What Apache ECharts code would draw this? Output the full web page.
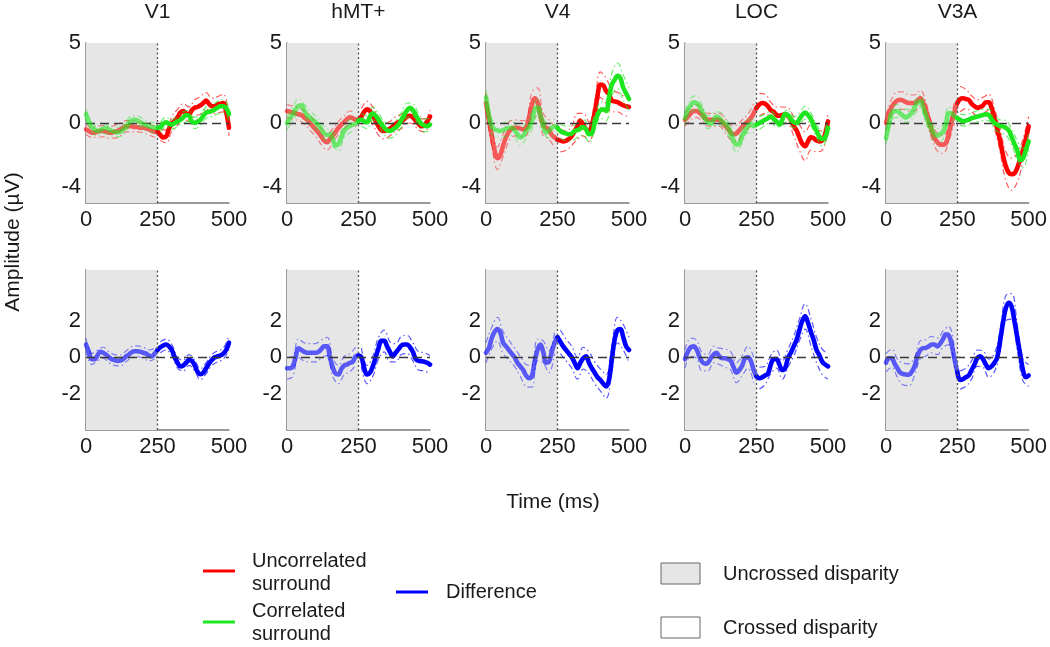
<!DOCTYPE html>
<html><head><meta charset="utf-8">
<script src="https://cdn.jsdelivr.net/npm/echarts@6/dist/echarts.min.js"></script>
<style>html,body{margin:0;padding:0;background:#fff}#c{width:1050px;height:647px}</style>
</head><body><div id="c"></div><script>
// ---------- data ----------
const regions = ['V1', 'hMT+', 'V4', 'LOC', 'V3A'];
const xTicks = [0, 250, 500];
const topYLabels = [5, 0, -4];
const bottomYLabels = [2, 0, -2];
const times = Array.from({length: 51}, (_, i) => i * 10);      // ms, 10 ms steps
const errTimes = Array.from({length: 26}, (_, i) => i * 20);   // ms, 20 ms steps

// Uncorrelated surround (red), µV
const uncV1 = [-0.4,-0.5,-0.6,-0.6,-0.55,-0.5,-0.5,-0.55,-0.6,-0.6,
  -0.55,-0.5,-0.4,-0.3,-0.2,-0.2,-0.2,-0.25,-0.25,-0.3,
  -0.3,-0.35,-0.4,-0.5,-0.55,-0.55,-0.75,-0.9,-0.85,-0.35,
  -0.05,0.15,0.35,0.65,0.75,0.6,0.55,0.8,0.95,1.0,
  1.1,1.25,1.4,1.2,1.05,1.05,1.15,1.2,1.25,0.7,-0.3];
const uncMT = [0.75,0.7,0.65,0.6,0.55,0.5,0.35,0.2,0.0,-0.2,
  -0.4,-0.6,-0.85,-1.1,-1.2,-1.0,-0.8,-0.55,-0.3,-0.1,
  0.05,0.25,0.35,0.3,0.2,0.2,0.4,0.7,0.85,0.75,
  0.45,0.1,-0.2,-0.45,-0.5,-0.45,-0.35,-0.2,-0.05,0.05,
  0.1,0.25,0.4,0.45,0.35,0.15,-0.05,-0.2,-0.15,0.1,0.4];
const uncV4 = [1.25,0.2,-0.8,-1.7,-2.2,-2.0,-1.4,-0.9,-0.55,-0.35,
  -0.3,-0.3,-0.35,-0.4,-0.3,0.3,1.1,1.55,1.3,0.5,
  -0.1,-0.3,-0.4,-0.75,-0.9,-1.05,-1.1,-1.15,-1.1,-1.0,
  -0.8,-0.5,-0.2,0.15,-0.1,-0.4,-0.55,-0.1,0.6,1.7,
  2.4,2.35,2.0,1.8,1.4,1.35,1.3,1.2,1.1,1.05,1.0];
const uncLOC = [0.2,0.4,0.6,0.75,0.75,0.65,0.5,0.3,0.2,0.2,
  0.2,0.2,0.2,0.05,-0.15,-0.35,-0.6,-0.7,-0.65,-0.45,
  -0.25,-0.05,0.1,0.3,0.6,0.95,1.15,1.25,1.2,1.05,
  0.8,0.7,0.5,0.45,0.5,0.55,0.45,0.2,-0.2,-0.45,
  -0.9,-1.3,-1.45,-1.15,-0.9,-0.95,-1.1,-1.15,-1.1,-0.7,0.1];
const uncV3A = [0.0,0.6,1.0,1.25,1.4,1.45,1.4,1.3,1.25,1.25,
  1.25,1.4,1.55,1.3,0.8,0.2,-0.45,-0.95,-1.2,-1.35,
  -1.35,-1.25,-0.65,0.05,0.7,1.25,1.5,1.55,1.5,1.45,
  1.2,1.05,0.95,1.0,1.1,1.3,1.3,0.95,0.3,-0.4,
  -1.1,-2.0,-2.7,-3.1,-3.2,-3.15,-2.8,-2.3,-1.7,-1.0,-0.2];

// Correlated surround (green), µV
const corV1 = [0.55,0.1,-0.25,-0.4,-0.5,-0.45,-0.35,-0.3,-0.4,-0.5,
  -0.55,-0.6,-0.55,-0.4,-0.2,0.0,0.15,0.2,0.15,0.05,
  -0.05,-0.15,-0.2,-0.25,-0.3,-0.3,-0.25,-0.05,0.05,-0.05,
  -0.1,0.0,0.1,0.2,0.35,0.5,0.45,0.1,0.0,0.1,
  0.2,0.45,0.65,0.7,0.75,0.85,0.95,1.05,1.05,0.95,0.55];
const corMT = [0.0,0.3,0.55,0.85,1.05,1.1,0.8,0.5,0.35,0.2,
  0.05,-0.15,-0.4,-0.65,-0.75,-0.7,-1.0,-1.4,-1.3,-0.9,
  -0.5,-0.3,-0.2,-0.1,-0.05,0.15,0.2,0.1,0.05,0.4,
  0.6,0.45,0.2,-0.05,-0.3,-0.45,-0.5,-0.4,-0.3,-0.1,
  0.2,0.5,0.8,0.95,0.8,0.5,0.2,-0.05,-0.15,-0.2,-0.1];
const corV4 = [1.6,0.5,-0.2,-0.4,-0.45,-0.5,-0.45,-0.35,-0.3,-0.3,
  -0.45,-0.7,-0.9,-0.8,-0.5,-0.3,0.1,0.8,1.0,0.5,
  -0.1,-0.6,-0.5,-0.3,-0.2,-0.3,-0.5,-0.6,-0.65,-0.7,
  -0.65,-0.5,-0.45,-0.35,-0.25,-0.4,-0.7,-0.65,0.0,0.5,
  0.8,0.85,0.75,1.6,2.4,2.7,2.95,2.8,2.2,1.85,1.5];
const corLOC = [0.3,0.8,1.1,1.3,1.25,1.05,0.7,0.3,0.05,-0.05,
  0.2,0.4,0.3,0.1,-0.05,-0.25,-0.65,-1.1,-1.35,-1.25,
  -0.8,-0.5,-0.2,-0.05,-0.2,-0.1,0.0,0.1,0.2,0.3,
  0.4,0.25,0.1,-0.1,0.2,0.55,0.5,0.25,0.05,0.0,
  0.25,0.5,0.65,0.5,0.25,-0.15,-0.5,-0.85,-1.0,-0.9,-0.3];
const corV3A = [-0.95,-0.1,0.6,0.75,0.75,0.6,0.45,0.35,0.45,0.65,
  0.95,1.25,1.35,1.0,0.4,0.0,-0.4,-0.7,-0.8,-0.7,
  -0.55,-0.1,0.6,0.6,0.4,0.3,0.2,0.1,0.15,0.2,
  0.3,0.35,0.4,0.45,0.5,0.55,0.5,0.25,0.0,-0.1,
  -0.2,-0.2,-0.3,-0.45,-0.85,-1.3,-1.7,-2.3,-2.2,-1.7,-1.15];

// Difference (blue), µV
const difV1 = [0.7,0.3,-0.1,-0.1,0.1,0.3,0.25,0.15,0.0,-0.1,
  -0.15,-0.2,-0.18,-0.1,0.05,0.15,0.28,0.33,0.33,0.3,
  0.25,0.2,0.1,0.05,0.2,0.4,0.55,0.65,0.7,0.6,
  0.4,0.0,-0.3,-0.5,-0.45,-0.3,-0.15,-0.2,-0.45,-0.8,
  -0.93,-0.85,-0.6,-0.35,-0.15,0.0,0.05,0.1,0.2,0.4,0.8];
const difMT = [-0.6,-0.6,-0.5,0.0,0.5,0.4,0.3,0.25,0.25,0.25,
  0.25,0.3,0.45,0.6,0.6,0.0,-0.55,-0.9,-0.95,-0.65,
  -0.45,-0.4,-0.3,-0.25,0.05,0.1,0.0,-0.6,-0.95,-0.85,
  -0.5,0.0,0.5,0.9,0.9,0.6,0.3,0.05,0.25,0.45,
  0.65,0.7,0.7,0.55,0.3,-0.1,-0.2,-0.22,-0.25,-0.3,-0.4];
const difV4 = [0.25,0.5,1.05,1.4,1.55,1.35,0.8,0.6,0.4,0.2,
  0.0,-0.3,-0.5,-0.7,-1.0,-1.15,-1.05,-0.25,0.4,0.7,
  0.3,-0.3,-0.25,0.3,0.8,1.1,0.85,0.6,0.4,0.2,
  0.0,-0.3,-0.6,-0.3,-0.05,0.05,-0.3,-0.6,-0.85,-1.1,
  -1.25,-1.45,-1.6,-1.25,-0.1,1.0,1.5,1.55,1.1,0.6,0.4];
const difLOC = [-0.1,0.3,0.55,0.6,0.45,0.05,-0.25,-0.35,-0.3,-0.05,
  0.15,0.25,0.05,-0.05,-0.05,-0.1,-0.2,-0.55,-0.85,-0.7,
  -0.45,-0.05,0.0,-0.2,-0.7,-1.05,-1.15,-1.1,-1.0,-0.9,
  -0.4,-0.1,-0.1,-0.4,-0.7,-0.6,-0.05,0.25,0.6,0.95,
  1.5,2.0,2.25,1.9,1.4,0.95,0.4,0.1,-0.25,-0.4,-0.5];
const difV3A = [-0.3,-0.05,-0.05,-0.35,-0.6,-0.85,-0.92,-0.95,-0.96,-0.8,
  -0.5,0.05,0.4,0.5,0.52,0.6,0.7,0.7,0.6,0.75,
  1.0,1.26,1.2,0.7,-0.1,-0.8,-1.25,-1.2,-1.1,-1.0,
  -0.7,-0.4,-0.05,0.05,-0.1,-0.4,-0.6,-0.5,-0.3,0.0,
  0.9,1.9,2.7,3.0,2.8,2.0,1.1,0.2,-0.7,-1.1,-1.0];

// half-widths of the confidence bands (every 20 ms), µV
const errUncV1 = [0.3,0.3,0.35,0.35,0.35,0.4,0.4,0.35,0.35,0.3,0.3,0.35,0.35,0.35,0.4,0.45,0.5,0.45,0.45,0.5,0.55,0.5,0.5,0.5,0.55,0.5];
const errCorV1 = [0.3,0.3,0.3,0.3,0.3,0.3,0.3,0.3,0.3,0.3,0.3,0.3,0.3,0.3,0.3,0.3,0.3,0.35,0.35,0.35,0.35,0.35,0.35,0.4,0.4,0.4];
const errUncMT = [0.4,0.4,0.4,0.4,0.45,0.45,0.5,0.5,0.45,0.4,0.4,0.4,0.45,0.5,0.5,0.55,0.55,0.5,0.45,0.45,0.45,0.4,0.4,0.4,0.4,0.4];
const errCorMT = [0.4,0.45,0.45,0.4,0.4,0.4,0.4,0.4,0.45,0.45,0.4,0.4,0.4,0.4,0.4,0.4,0.4,0.4,0.45,0.45,0.45,0.45,0.4,0.4,0.4,0.4];
const errUncV4 = [0.6,0.6,0.7,0.7,0.6,0.5,0.5,0.5,0.8,0.9,0.7,0.6,0.7,0.7,0.6,0.6,0.8,0.7,0.6,0.7,0.8,0.8,0.7,0.6,0.6,0.6];
const errCorV4 = [0.5,0.45,0.45,0.45,0.45,0.45,0.5,0.5,0.55,0.5,0.45,0.45,0.45,0.45,0.45,0.45,0.45,0.5,0.5,0.5,0.5,0.6,0.7,0.8,0.8,0.7];
const errUncLOC = [0.4,0.4,0.4,0.4,0.4,0.4,0.4,0.45,0.45,0.5,0.45,0.45,0.6,0.7,0.6,0.5,0.5,0.5,0.5,0.6,0.8,0.9,0.8,0.7,0.6,0.6];
const errCorLOC = [0.45,0.45,0.45,0.4,0.4,0.4,0.4,0.4,0.45,0.5,0.45,0.4,0.4,0.4,0.35,0.35,0.35,0.35,0.35,0.35,0.35,0.4,0.4,0.4,0.45,0.45];
const errUncV3A = [0.5,0.5,0.55,0.55,0.5,0.5,0.5,0.5,0.5,0.55,0.55,0.5,0.7,0.8,0.6,0.5,0.5,0.5,0.5,0.6,0.7,0.9,1.0,0.9,0.7,0.6];
const errCorV3A = [0.4,0.4,0.4,0.4,0.4,0.4,0.4,0.4,0.4,0.45,0.45,0.4,0.35,0.35,0.35,0.35,0.35,0.35,0.35,0.4,0.4,0.45,0.5,0.6,0.6,0.5];
const errDifV1 = [0.35,0.3,0.3,0.3,0.3,0.3,0.3,0.3,0.3,0.3,0.3,0.3,0.3,0.3,0.3,0.3,0.3,0.3,0.3,0.3,0.3,0.3,0.3,0.3,0.3,0.4];
const errDifMT = [0.6,0.55,0.5,0.5,0.5,0.5,0.5,0.5,0.5,0.5,0.5,0.5,0.5,0.5,0.5,0.55,0.6,0.6,0.55,0.5,0.5,0.5,0.5,0.5,0.5,0.5];
const errDifV4 = [0.55,0.6,0.65,0.6,0.55,0.5,0.55,0.6,0.6,0.6,0.6,0.6,0.6,0.65,0.6,0.6,0.6,0.6,0.6,0.6,0.6,0.65,0.7,0.7,0.7,0.7];
const errDifLOC = [0.5,0.5,0.5,0.5,0.45,0.45,0.45,0.5,0.5,0.55,0.55,0.6,0.7,0.6,0.5,0.5,0.5,0.5,0.5,0.55,0.6,0.7,0.75,0.7,0.7,0.7];
const errDifV3A = [0.5,0.5,0.5,0.6,0.6,0.5,0.5,0.45,0.45,0.45,0.45,0.5,0.5,0.5,0.5,0.5,0.45,0.45,0.5,0.5,0.6,0.7,0.7,0.7,0.6,0.6];

const topPanels = [
  [[uncV1, errUncV1], [corV1, errCorV1]],
  [[uncMT, errUncMT], [corMT, errCorMT]],
  [[uncV4, errUncV4], [corV4, errCorV4]],
  [[uncLOC, errUncLOC], [corLOC, errCorLOC]],
  [[uncV3A, errUncV3A], [corV3A, errCorV3A]]
];
const bottomPanels = [[difV1, errDifV1], [difMT, errDifMT], [difV4, errDifV4], [difLOC, errDifLOC], [difV3A, errDifV3A]];

// ---------- layout / style ----------
const FONT = '"Liberation Sans", Arial, sans-serif';
const RED = '#ff0000', GREEN = '#1ee61e', BLUE = '#0000ff';
const lefts = [86, 287, 486, 685, 886];
const W = 143, H = 160;
const rowTops = [43, 270];
const AX = '#7a7a7a';

const grids = [], xAxes = [], yAxes = [], series = [];

function halves(d) { return [d.filter(p => p[0] <= 250), d.filter(p => p[0] >= 250)]; }

function addCurve(k, mean, err, color, z) {
  const m = times.map((t, i) => [t, mean[i]]);
  const up = errTimes.map((t, j) => [t, +(mean[j * 2] + err[j]).toFixed(3)]);
  const lo = errTimes.map((t, j) => [t, +(mean[j * 2] - err[j]).toFixed(3)]);
  [up, lo].forEach(b => {
    halves(b).forEach((h, hi) => series.push({
      type: 'line', xAxisIndex: k, yAxisIndex: k, data: h, smooth: 0.4, showSymbol: false, silent: true, z: z,
      lineStyle: {color: color, width: 1.2, type: [6, 3, 1.5, 3], opacity: hi === 0 ? 0.45 : 0.65}
    }));
  });
  halves(m).forEach((h, hi) => series.push({
    type: 'line', xAxisIndex: k, yAxisIndex: k, data: h, smooth: 0.4, showSymbol: false, silent: true, z: z + 1,
    lineStyle: {color: color, width: 4.6, opacity: hi === 0 ? 0.62 : 1, cap: 'round', join: 'round'}
  }));
}

for (let k = 0; k < 10; k++) {
  const row = k < 5 ? 0 : 1, col = k % 5;
  grids.push({left: lefts[col], top: rowTops[row], width: W, height: H, containLabel: false});
  xAxes.push({
    type: 'value', gridIndex: k, min: xTicks[0], max: xTicks[2], interval: 250,
    axisLine: {show: true, onZero: false, lineStyle: {color: AX, width: 1.5}},
    axisTick: {show: false}, splitLine: {show: false},
    axisLabel: {fontFamily: FONT, fontSize: 22, color: '#1a1a1a', margin: 6,
      formatter: v => xTicks.includes(v) ? String(v) : ''}
  });
  const labs = row === 0 ? topYLabels : bottomYLabels;
  yAxes.push({
    type: 'value', gridIndex: k, min: row === 0 ? -5 : -4, max: row === 0 ? 5 : 4.8, interval: 1,
    axisLine: {show: true, onZero: false, lineStyle: {color: AX, width: 1.5}},
    axisTick: {show: false}, splitLine: {show: false},
    axisLabel: {fontFamily: FONT, fontSize: 22, color: '#1a1a1a', margin: 5, showMaxLabel: true,
      formatter: v => labs.includes(v) ? String(v) : ''}
  });
  series.push({
    type: 'line', xAxisIndex: k, yAxisIndex: k, data: [], silent: true, z: 1,
    markArea: {silent: true, itemStyle: {color: '#e6e6e6'}, data: [[{xAxis: 0}, {xAxis: 250}]]},
    markLine: {silent: true, symbol: 'none', label: {show: false}, animation: false,
      data: [
        {yAxis: 0, lineStyle: {type: [9, 5], color: '#3a3a3a', width: 1.3}},
        {xAxis: 250, lineStyle: {type: [2, 2.5], color: '#555', width: 1.3}}
      ]}
  });
  if (row === 0) {
    addCurve(k, topPanels[col][0][0], topPanels[col][0][1], RED, 2);
    addCurve(k, topPanels[col][1][0], topPanels[col][1][1], GREEN, 4);
  } else {
    addCurve(k, bottomPanels[col][0], bottomPanels[col][1], BLUE, 2);
  }
}

const txt = (x, y, s, extra) => Object.assign({type: 'text', x: x, y: y, silent: true,
  style: Object.assign({text: s, font: '20px ' + FONT, fill: '#1a1a1a', textAlign: 'left', textVerticalAlign: 'middle'}, extra || {})});

const graphic = [];
regions.forEach((r, i) => graphic.push(txt(lefts[i] + W / 2, 12, r, {textAlign: 'center', font: '21px ' + FONT})));
graphic.push({type: 'text', x: 13, y: 242, rotation: Math.PI / 2, silent: true,
  style: {text: 'Amplitude (µV)', font: '21px ' + FONT, fill: '#1a1a1a', textAlign: 'center', textVerticalAlign: 'middle'}});
graphic.push(txt(553, 502, 'Time (ms)', {textAlign: 'center', font: '21px ' + FONT}));
// legend
graphic.push({type: 'line', silent: true, shape: {x1: 203, y1: 571, x2: 235, y2: 571}, style: {stroke: RED, lineWidth: 3}});
graphic.push(txt(252, 561, 'Uncorrelated'));
graphic.push(txt(252, 584, 'surround'));
graphic.push({type: 'line', silent: true, shape: {x1: 203, y1: 622, x2: 235, y2: 622}, style: {stroke: GREEN, lineWidth: 3}});
graphic.push(txt(252, 611, 'Correlated'));
graphic.push(txt(252, 634, 'surround'));
graphic.push({type: 'line', silent: true, shape: {x1: 396, y1: 592, x2: 428, y2: 592}, style: {stroke: BLUE, lineWidth: 3}});
graphic.push(txt(446, 592, 'Difference'));
graphic.push({type: 'rect', silent: true, shape: {x: 661, y: 563, width: 39, height: 21}, style: {fill: '#e6e6e6', stroke: '#666', lineWidth: 1}});
graphic.push(txt(723, 574, 'Uncrossed disparity'));
graphic.push({type: 'rect', silent: true, shape: {x: 661, y: 617, width: 39, height: 21}, style: {fill: '#ffffff', stroke: '#666', lineWidth: 1}});
graphic.push(txt(723, 628, 'Crossed disparity'));

const chart = echarts.init(document.getElementById('c'), null, {renderer: 'canvas'});
chart.setOption({
  animation: false,
  backgroundColor: '#ffffff',
  grid: grids, xAxis: xAxes, yAxis: yAxes, series: series, graphic: graphic
});
</script></body></html>
